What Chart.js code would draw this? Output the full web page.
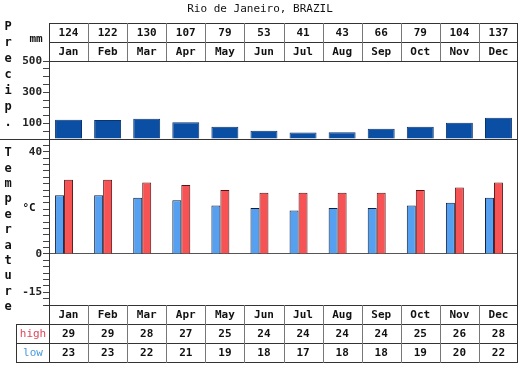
<!DOCTYPE html>
<html><head><meta charset="utf-8">
<script src="https://cdn.jsdelivr.net/npm/chart.js@4"></script>
<style>html,body{margin:0;padding:0;background:#fff}canvas{display:block}</style>
</head><body>
<canvas id="c" width="520" height="390"></canvas>
<script>
const title = 'Rio de Janeiro, BRAZIL';
const months = ['Jan','Feb','Mar','Apr','May','Jun','Jul','Aug','Sep','Oct','Nov','Dec'];
const precipMm = [124,122,130,107,79,53,41,43,66,79,104,137];
const highC = [29,29,28,27,25,24,24,24,24,25,26,28];
const lowC = [23,23,22,21,19,18,17,18,18,19,20,22];
const precipTickLabels = [100,300,500];
const tempTickLabels = [40,0,-15];
const precipWord = 'Precip.';
const tempWord = 'Temperature';

const MONO = '"DejaVu Sans Mono", "Liberation Mono", monospace';
const FONT_B = 'bold 11px ' + MONO;

const tablesPlugin = {
  id: 'tables',
  afterDraw(chart) {
    const {ctx, chartArea: a} = chart;
    const n = months.length;
    const w = (a.right - a.left) / n;
    const colX = i => Math.round(a.left + i * w) + 0.5;
    const H = y => Math.round(y) + 0.5;
    const sep = chart.scales.yP.bottom;
    ctx.save();
    ctx.textAlign = 'center';
    ctx.textBaseline = 'middle';

    // title
    ctx.font = '11px ' + MONO;
    ctx.fillStyle = '#111';
    ctx.fillText(title, 260, 9);

    // frame lines
    ctx.strokeStyle = '#333';
    ctx.lineWidth = 1;
    ctx.beginPath();
    ctx.moveTo(a.left, H(a.top)); ctx.lineTo(a.right, H(a.top));
    ctx.moveTo(H(a.right - 1), 23); ctx.lineTo(H(a.right - 1), 363);
    ctx.moveTo(0, H(sep)); ctx.lineTo(a.right, H(sep));
    ctx.moveTo(45, H(a.bottom)); ctx.lineTo(a.right, H(a.bottom));
    // top table horizontals
    ctx.moveTo(a.left, H(23)); ctx.lineTo(a.right, H(23));
    ctx.moveTo(a.left, H(42)); ctx.lineTo(a.right, H(42));
    // bottom table horizontals
    ctx.moveTo(17, H(324)); ctx.lineTo(a.right, H(324));
    ctx.moveTo(17, H(343)); ctx.lineTo(a.right, H(343));
    ctx.moveTo(17, H(362)); ctx.lineTo(a.right, H(362));
    // left edges
    ctx.moveTo(H(a.left), 23); ctx.lineTo(H(a.left), 61);
    ctx.moveTo(H(a.left), 305); ctx.lineTo(H(a.left), 363);
    ctx.moveTo(H(16), 324); ctx.lineTo(H(16), 363);
    ctx.stroke();

    // column dividers
    ctx.strokeStyle = '#777';
    ctx.beginPath();
    for (let i = 1; i < n; i++) {
      ctx.moveTo(colX(i), 23); ctx.lineTo(colX(i), 61);
      ctx.moveTo(colX(i), 305); ctx.lineTo(colX(i), 363);
    }
    ctx.stroke();

    // table texts
    ctx.font = FONT_B;
    ctx.fillStyle = '#111';
    for (let i = 0; i < n; i++) {
      const cx = a.left + (i + 0.5) * w;
      ctx.fillText(String(precipMm[i]), cx, 33);
      ctx.fillText(months[i], cx, 52);
      ctx.fillText(months[i], cx, 315);
      ctx.fillText(String(highC[i]), cx, 334);
      ctx.fillText(String(lowC[i]), cx, 353);
    }
    ctx.font = '11px ' + MONO;
    ctx.fillStyle = '#e0485a';
    ctx.fillText('high', 33, 334);
    ctx.fillStyle = '#4a9ae0';
    ctx.fillText('low', 33, 353);

    // units
    ctx.font = FONT_B;
    ctx.fillStyle = '#111';
    ctx.fillText('mm', 36, 39);
    ctx.fillText('\u00B0C', 29, 208);

    // vertical words
    ctx.font = 'bold 12px ' + MONO;
    for (let i = 0; i < precipWord.length; i++) {
      ctx.fillText(precipWord[i], 8, 27 + i * 16);
    }
    for (let i = 0; i < tempWord.length; i++) {
      ctx.fillText(tempWord[i], 8, 153 + i * 15.4);
    }
    ctx.restore();
  }
};

const tickFont = {family: MONO, size: 11, weight: 'bold'};

new Chart(document.getElementById('c'), {
  type: 'bar',
  data: {
    labels: months,
    datasets: [
      {label: 'Precipitation', data: precipMm, yAxisID: 'yP', grouped: false,
       categoryPercentage: 1, barPercentage: 0.69,
       backgroundColor: '#0b4fa4', borderColor: '#0a3470', borderWidth: 1},
      {label: 'low', data: lowC, yAxisID: 'yT',
       categoryPercentage: 0.69, barPercentage: 1,
       backgroundColor: '#55a0f0', borderColor: '#10203c', borderWidth: 1},
      {label: 'high', data: highC, yAxisID: 'yT',
       categoryPercentage: 0.69, barPercentage: 1,
       backgroundColor: '#f75254', borderColor: '#5a1414', borderWidth: 1},
      {label: '', data: [], yAxisID: 'yT', categoryPercentage: 0.69, barPercentage: 1}
    ]
  },
  options: {
    responsive: false,
    animation: false,
    layout: {padding: {top: 61, bottom: 85, left: 0, right: 2}},
    plugins: {legend: {display: false}, tooltip: {enabled: false}, title: {display: false}},
    scales: {
      x: {display: false},
      yT: {
        type: 'linear', position: 'left', stack: 'v', stackWeight: 166,
        min: -20, max: 45,
        afterFit(s) { s.width = 49; },
        ticks: {stepSize: 2.5, autoSkip: false, padding: 1, color: '#222', font: tickFont,
          callback: v => tempTickLabels.includes(v) ? String(v) : ''},
        grid: {drawOnChartArea: true, tickLength: 6, tickColor: '#444',
          color: c => (c.tick && c.tick.value === 0) ? '#555' : 'rgba(0,0,0,0)'},
        border: {color: '#333'}
      },
      yP: {
        type: 'linear', position: 'left', stack: 'v', stackWeight: 78,
        min: 0, max: 500,
        afterFit(s) { s.width = 49; },
        ticks: {stepSize: 50, autoSkip: false, padding: 1, color: '#222', font: tickFont,
          callback: v => precipTickLabels.includes(v) ? String(v) : ''},
        grid: {drawOnChartArea: false, tickLength: 6, tickColor: '#444'},
        border: {color: '#333'}
      }
    }
  },
  plugins: [tablesPlugin]
});
</script>
</body></html>
